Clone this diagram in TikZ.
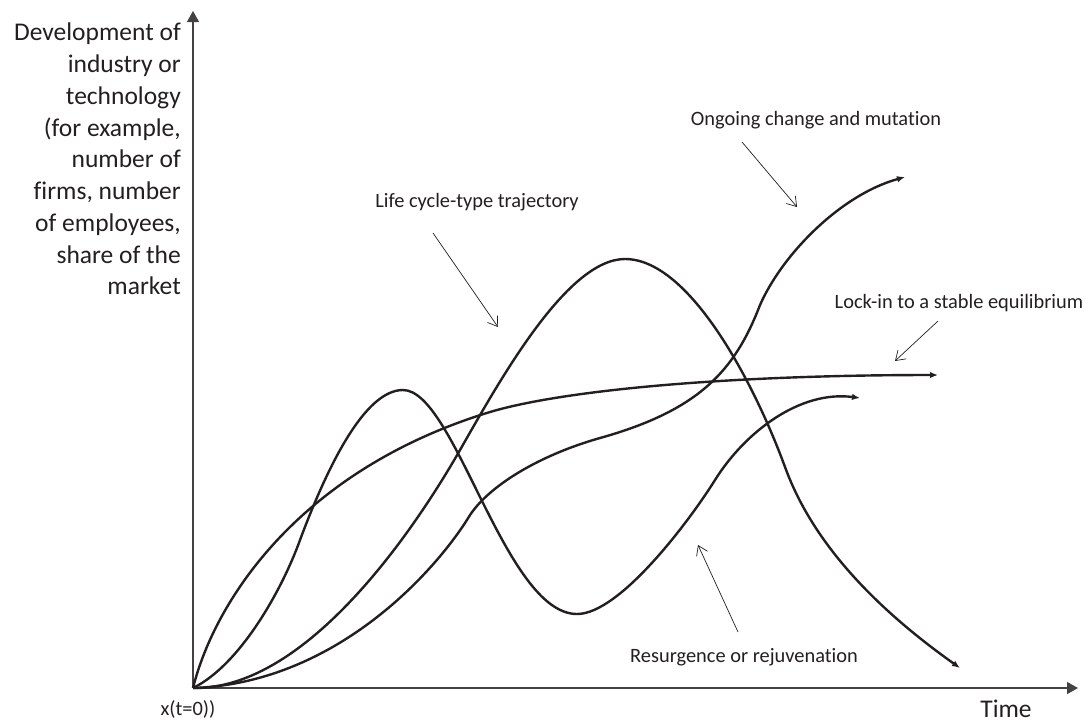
\documentclass[tikz,border=0pt]{standalone}
\usepackage{fontspec}
\setmainfont{Carlito}[Ligatures=NoCommon]
\usetikzlibrary{arrows.meta}
\definecolor{ink}{HTML}{231F20}

\tikzset{
  axis/.style={line width=1.3pt, draw=ink!85, -{Triangle[length=11pt,width=12pt]}},
  trajectory/.style={line width=2.4pt, draw=ink, -{Latex[length=8pt,width=6.5pt]}},
  callout/.style={line width=0.7pt, draw=ink, -{Straight Barb[length=9pt,width=12pt,line width=0.7pt]}},
  biglabel/.style={font=\fontsize{25.5}{31.75}\selectfont, text=ink, inner sep=0pt},
  smalllabel/.style={font=\fontsize{20.4}{24}\selectfont, text=ink, inner sep=0pt},
}

\begin{document}
\begin{tikzpicture}[x=1pt, y=-1pt]
\useasboundingbox (0,0) rectangle (1091,724);

% axes
\coordinate (O) at (193,688);
\coordinate (ytop) at (193,11);
\coordinate (xend) at (1078,688);
\draw[axis] (O) -- (ytop);
\draw[axis] (O) -- (xend);

% axis labels
\node[biglabel, align=right, anchor=north east] (ylab) at (181,23)
  {Development of\\industry or\\technology\\(for example,\\number of\\firms, number\\of employees,\\share of the\\market};
\node[biglabel, anchor=base] (tlab) at (1006,717) {Time};
\node[smalllabel, anchor=base] (x0lab) at (188,715) {x(t=0))};

% end points of the four trajectories
\coordinate (liend) at (938,375);
\coordinate (rsend) at (860,398);
\coordinate (lcend) at (960,668);
\coordinate (ocend) at (905,177);

% lock-in to a stable equilibrium
\draw[trajectory] (O) .. controls (215,600) and (300,470) .. (490,412)
  .. controls (560,391) and (720,375) .. (liend);

% resurgence or rejuvenation
\draw[trajectory] (O) .. controls (240,665) and (282,590) .. (300,540)
  .. controls (328,465) and (365,390) .. (403,390)
  .. controls (455,390) and (505,614) .. (577,614)
  .. controls (620,614) and (690,520) .. (715,480)
  .. controls (745,432) and (800,390) .. (rsend);

% life cycle-type trajectory
\draw[trajectory] (O) .. controls (310,690) and (420,520) .. (460,450)
  .. controls (500,380) and (567,259) .. (625,259)
  .. controls (690,259) and (755,385) .. (785,467)
  .. controls (805,522) and (850,590) .. (lcend);

% ongoing change and mutation
\draw[trajectory] (O) .. controls (340,683) and (440,565) .. (470,515)
  .. controls (490,485) and (540,455) .. (600,438)
  .. controls (700,410) and (735,370) .. (760,305)
  .. controls (782,255) and (840,195) .. (ocend);

% trajectory labels with their pointers
\node[smalllabel] (lclab) at (477,202) {Life cycle-type trajectory};
\coordinate (lcfrom) at (433,233);
\coordinate (lcto) at (498,327);
\draw[callout] (lcfrom) -- (lcto);

\node[smalllabel] (oclab) at (816,120) {Ongoing change and mutation};
\coordinate (ocfrom) at (742,142);
\coordinate (octo) at (797,207);
\draw[callout] (ocfrom) -- (octo);

\node[smalllabel] (lilab) at (959,303) {Lock-in to a stable equilibrium};
\coordinate (lifrom) at (938,321);
\coordinate (lito) at (895,361);
\draw[callout] (lifrom) -- (lito);

\node[smalllabel] (rslab) at (744,657) {Resurgence or rejuvenation};
\coordinate (rsfrom) at (738,632);
\coordinate (rsto) at (698,545);
\draw[callout] (rsfrom) -- (rsto);
\end{tikzpicture}
\end{document}
